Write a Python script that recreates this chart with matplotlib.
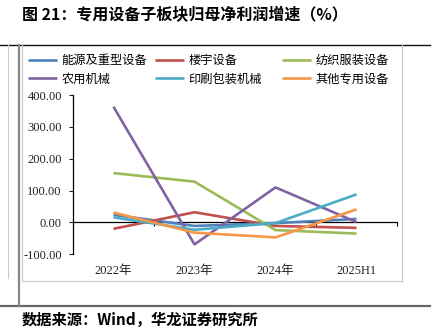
import matplotlib
matplotlib.use("Agg")
import matplotlib.pyplot as plt
from matplotlib.lines import Line2D

plt.rcParams['font.family'] = ['Liberation Serif', 'Noto Sans CJK SC']

# 数据 (%)
categories = ["2022年", "2023年", "2024年", "2025H1"]
nengyuan = [24, -11, -2, 11]      # 能源及重型设备
louyu = [-20, 32, -11, -17]       # 楼宇设备
fangzhi = [155, 128, -24, -35]    # 纺织服装设备
nongyong = [363, -69, 110, 1]     # 农用机械
yinshua = [16, -23, -2, 88]       # 印刷包装机械
qita = [31, -32, -47, 41]         # 其他专用设备

series_names = ["能源及重型设备", "楼宇设备", "纺织服装设备", "农用机械", "印刷包装机械", "其他专用设备"]
series_vals = [nengyuan, louyu, fangzhi, nongyong, yinshua, qita]
colors = ["#4F81BD", "#C0504D", "#9BBB59", "#8064A2", "#4BACC6", "#F79646"]

W, H = 441, 330
fig = plt.figure(figsize=(W / 100, H / 100), dpi=100)

def fx(px):
    return px / W

def fy(py):
    return 1 - py / H

ymin, ymax = -100, 400
ax = fig.add_axes([fx(73), fy(254.3), fx(397 - 73), (254.3 - 95) / H])
x = list(range(len(categories)))
lines = []
for name, vals, c in zip(series_names, series_vals, colors):
    ln, = ax.plot(x, vals, color=c, lw=1.9, label=name, solid_capstyle='butt')
    lines.append(ln)

ax.set_xlim(-0.5, len(categories) - 0.5)
ax.set_ylim(ymin, ymax)
ax.set_yticks(range(ymin, ymax + 1, 100))
ax.set_yticklabels(["{:.2f}".format(v) for v in range(ymin, ymax + 1, 100)])
ax.tick_params(axis='y', length=3, width=0.8, pad=5, labelsize=9, colors='#222222')
ax.set_xticks(x)
ax.set_xticklabels(categories)
ax.tick_params(axis='x', length=0, pad=8, labelsize=9, colors='#222222')
for s in ['top', 'right', 'bottom']:
    ax.spines[s].set_visible(False)
ax.spines['left'].set_linewidth(0.9)

# 零轴 + 分类刻度
zero_pos = (0 - ymin) / (ymax - ymin)
sec = ax.secondary_xaxis(zero_pos)
sec.set_xticks([i + 0.5 for i in range(len(categories))])
sec.tick_params(axis='x', direction='out', length=3, width=0.8, labelbottom=False, labeltop=False)
sec.spines['bottom'].set_linewidth(0.9)
sec.spines['top'].set_linewidth(0.9)

# 图例 (按列)
col_x = [28, 155, 282]
for ci in range(3):
    hs = [lines[ci], lines[ci + 3]]
    ls = [series_names[ci], series_names[ci + 3]]
    fig.legend(hs, ls, loc='upper left', bbox_to_anchor=(fx(col_x[ci]), fy(54)),
               frameon=False, borderpad=0, borderaxespad=0, handlelength=2.4,
               handletextpad=0.35, labelspacing=0.45,
               prop={'family': ['Noto Sans CJK SC'], 'size': 8.8})

# 标题与来源
fig.text(fx(22), fy(15), "图 21：专用设备子板块归母净利润增速（%）", fontsize=11.5,
         fontweight='bold', va='center', ha='left', family=['Noto Sans CJK SC'])
fig.text(fx(22), fy(320), "数据来源：Wind，华龙证券研究所", fontsize=11,
         fontweight='bold', va='center', ha='left', family=['Noto Sans CJK SC'])

# 装饰线
fig.add_artist(Line2D([0, fx(430)], [fy(44.7), fy(44.7)], color='#111111', lw=1.0))
fig.add_artist(Line2D([0, fx(430)], [fy(305.7), fy(305.7)], color='#666666', lw=1.6))
fig.add_artist(Line2D([fx(19), fx(19)], [fy(44.7), fy(305.7)], color='#888888', lw=1.6))
fig.add_artist(Line2D([fx(8), fx(8)], [fy(44.7), fy(278)], color='#cccccc', lw=0.8))
box_x = [fx(21.7), fx(21.7), fx(401.7), fx(401.7)]
box_y = [fy(44.7), fy(281), fy(281), fy(44.7)]
fig.add_artist(Line2D(box_x, box_y, color='#c8c8c8', lw=0.8))

fig.savefig("out.png", dpi=100)
